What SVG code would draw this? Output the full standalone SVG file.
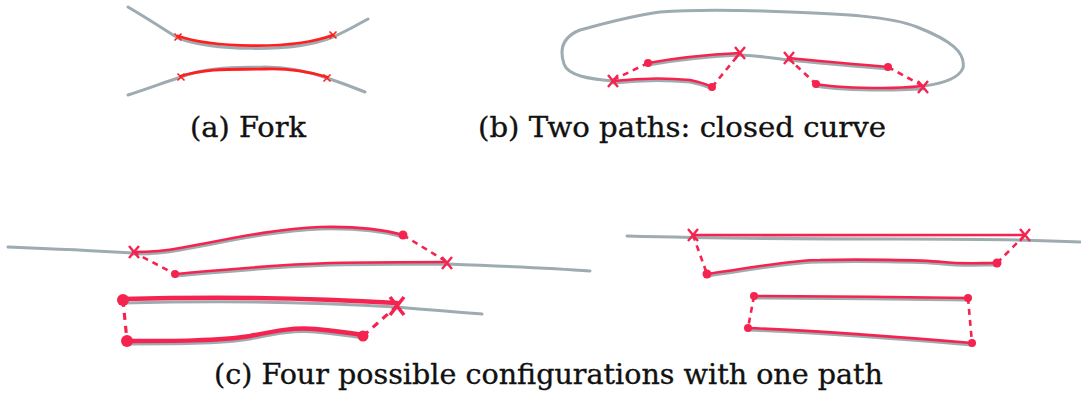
<svg xmlns="http://www.w3.org/2000/svg" width="1081" height="397" viewBox="0 0 1081 397">
<style>
.g{fill:none;stroke:#9eabb0;stroke-width:3;stroke-linecap:round}
.r{fill:none;stroke:#f5234f;stroke-width:2.6;stroke-linecap:round;stroke-linejoin:round}
.rr{fill:none;stroke:#ff1f1f;stroke-width:2.8;stroke-linecap:round}
.rt{fill:none;stroke:#f5234f;stroke-width:4.5;stroke-linecap:round}
.d{fill:none;stroke:#f5234f;stroke-width:2.6;stroke-dasharray:6 5}
.dt{fill:none;stroke:#f5234f;stroke-width:3.2;stroke-dasharray:7 6}
.x{fill:none;stroke:#f5234f;stroke-width:2.4}
.xa{fill:none;stroke:#ff1f1f;stroke-width:1.6}
.xt{fill:none;stroke:#f5234f;stroke-width:3.6}
.dot{fill:#f5234f}
.lbl{font-family:"DejaVu Serif","Liberation Serif",serif;font-size:28px;fill:#111;stroke:#111;stroke-width:0.35}
</style>
<defs>
<g id="X"><path d="M-5,-6 L5,6 M5,-6 L-5,6" class="x"/></g>
<g id="Xa"><path d="M-3.5,-3.5 L3.5,3.5 M3.5,-3.5 L-3.5,3.5" class="xa"/></g>
<g id="Xt"><path d="M-7,-9 L7,9 M7,-9 L-7,9" class="xt"/></g>
</defs>

<g id="fork">
<path class="g" d="M128,7 C150,20 165,30 178,38 C210,50 290,54 333,37 C345,32 355,26 368,19"/>
<path class="rr" d="M178,36 C210,47 290,51 333,35"/>
<use href="#Xa" x="178" y="37"/>
<use href="#Xa" x="333" y="35"/>
<path class="g" d="M128,95 C150,88 165,82 181,77 C210,66 240,68 265,67 C290,67 310,72 327,78 C345,84 355,88 365,92"/>
<path class="rr" d="M181,76 C210,67 240,70 265,69 C290,68 310,72 327,77"/>
<use href="#Xa" x="181" y="77"/>
<use href="#Xa" x="327" y="78"/>
</g>

<g id="closed">
<path class="g" d="M923,86 C940,84 958,80 963,68 C966,52 950,40 917,27 C890,16 840,14 790,12 C740,10 700,9 660,12 C630,16 610,22 580,30 C560,38 560,52 564,64 C568,76 590,79 613,81"/>
<path class="g" d="M613,83 C640,80 670,80 690,82 C700,84 706,86 712,89"/>
<path class="r" d="M613,81 C640,78 670,78 690,80 C700,82 706,84 712,87"/>
<path class="g" d="M648,65 C670,61 700,57 740,55 C760,56 775,58 788,60 C820,63 850,66 888,69"/>
<path class="r" d="M648,63 C670,59 700,55 740,53"/>
<path class="r" d="M788,58 C820,61 850,64 888,67"/>
<path class="g" d="M816,86 C833,89 860,90 883,90 C900,90 912,89 923,89"/>
<path class="r" d="M816,84 C833,87 860,88 883,88 C900,88 912,87 923,86"/>
<path class="d" d="M613,80 L648,63"/>
<path class="d" d="M712,87 L740,53"/>
<path class="d" d="M788,58 L816,84"/>
<path class="d" d="M888,67 L923,86"/>
<circle class="dot" cx="648" cy="63" r="4"/>
<circle class="dot" cx="712" cy="87" r="4"/>
<circle class="dot" cx="816" cy="84" r="4"/>
<circle class="dot" cx="888" cy="67" r="4"/>
<use href="#X" x="613" y="81"/>
<use href="#X" x="740" y="53"/>
<use href="#X" x="789" y="58"/>
<use href="#X" x="923" y="87"/>
</g>

<g id="config1">
<path class="g" d="M8,247 C60,249 100,251 133,253"/>
<path class="g" d="M133,254 C150,254 165,253 180,250 C220,243 270,231 320,229 C360,228 385,232 403,237"/>
<path class="r" d="M133,252 C150,252 165,251 180,248 C220,241 270,229 320,227 C360,226 385,230 403,235"/>
<path class="g" d="M175,276 C220,272 270,267 330,265 C380,264 420,264 447,264 C500,266 550,268 590,271"/>
<path class="r" d="M175,274 C220,270 270,265 330,263 C380,262 420,262 447,262"/>
<path class="d" d="M133,252 L175,274"/>
<path class="d" d="M403,235 L447,262"/>
<circle class="dot" cx="175" cy="274" r="4"/>
<circle class="dot" cx="403" cy="235" r="4.5"/>
<use href="#X" x="134" y="252"/>
<use href="#X" x="447" y="263"/>
</g>

<g id="config2">
<path class="g" d="M123,303 C200,301 300,301 397,307 C430,310 460,312 482,314"/>
<path class="rt" d="M123,299 C200,297 300,297 397,303"/>
<path class="g" d="M127,344 C170,344 220,344 250,339 C275,334 295,330 315,332 C335,334 350,336 363,338"/>
<path class="rt" d="M127,341 C170,341 220,341 250,336 C275,331 295,327 315,329 C335,331 350,333 363,335"/>
<path class="dt" d="M123,300 L127,341"/>
<path class="dt" d="M363,336 L397,306"/>
<circle class="dot" cx="123" cy="300" r="6"/>
<circle class="dot" cx="127" cy="341" r="6"/>
<circle class="dot" cx="363" cy="336" r="5.5"/>
<use href="#Xt" x="397" y="306"/>
</g>

<g id="config3">
<path class="g" d="M627,236 C700,238 800,239 900,239 C960,239 1020,239 1080,242"/>
<path class="r" d="M693,235 C800,235 900,236 1025,235"/>
<path class="g" d="M707,276 C750,270 790,262 820,262 C860,261 920,262 943,264 C960,266 980,265 997,265"/>
<path class="r" d="M707,274 C750,268 790,260 820,260 C860,259 920,260 943,262 C960,264 980,263 997,263"/>
<path class="d" d="M693,235 L707,274"/>
<path class="d" d="M997,263 L1025,235"/>
<circle class="dot" cx="707" cy="274" r="4.5"/>
<circle class="dot" cx="997" cy="263" r="4.5"/>
<use href="#X" x="693" y="235"/>
<use href="#X" x="1025" y="235"/>
</g>

<g id="config4">
<path class="g" d="M754,298 C820,298 900,299 968,300"/>
<path class="r" d="M754,296 C820,296 900,297 968,298"/>
<path class="g" d="M748,330 C820,333 900,339 972,345"/>
<path class="r" d="M748,328 C820,331 900,337 972,343"/>
<path class="d" d="M754,296 L748,328"/>
<path class="d" d="M968,298 L972,343"/>
<circle class="dot" cx="754" cy="296" r="4"/>
<circle class="dot" cx="968" cy="298" r="4"/>
<circle class="dot" cx="748" cy="328" r="4"/>
<circle class="dot" cx="972" cy="343" r="4"/>
</g>

<g id="labels">
<text class="lbl" x="190" y="137" textLength="116" lengthAdjust="spacingAndGlyphs">(a) Fork</text>
<text class="lbl" x="478" y="137" textLength="408" lengthAdjust="spacingAndGlyphs">(b) Two paths: closed curve</text>
<text class="lbl" x="214" y="384" textLength="669" lengthAdjust="spacingAndGlyphs">(c) Four possible configurations with one path</text>
</g>
</svg>
